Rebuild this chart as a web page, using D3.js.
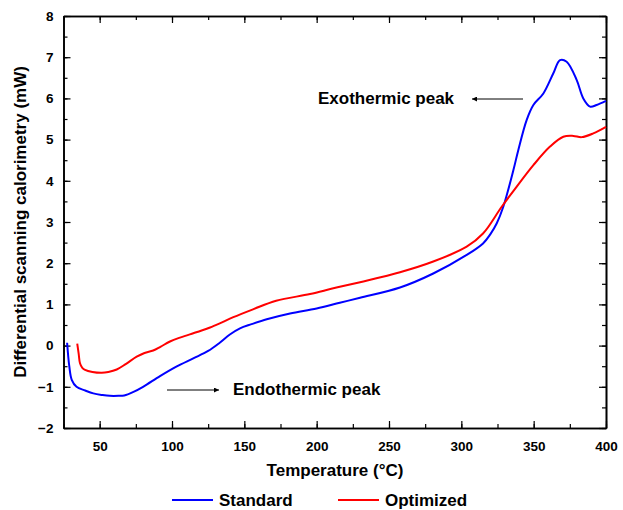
<!DOCTYPE html>
<html><head><meta charset="utf-8">
<script src="https://cdn.jsdelivr.net/npm/d3@7"></script>
<style>
body{margin:0;background:#fff;}
text{font-family:"Liberation Sans",Arial,sans-serif;font-weight:bold;fill:#000;}
</style></head>
<body><svg id="c" width="623" height="510"></svg>
<script>
const stdT = [27.5, 29, 30.7, 34, 40, 45.6, 52, 57, 63, 67, 73, 80, 91.7, 103, 114.7, 125, 133, 140, 147, 155, 165.5, 181.6, 200, 216, 230, 257.6, 280.6, 303.7, 315, 320, 324.5, 329, 336, 339.4, 345.2, 349.8, 356.7, 363.6, 368.2, 372.8, 379.7, 384.3, 389, 393.5, 400];
const stdV = [0.07, -0.5, -0.83, -1.0, -1.09, -1.16, -1.2, -1.22, -1.22, -1.21, -1.13, -1.0, -0.74, -0.51, -0.31, -0.13, 0.07, 0.27, 0.42, 0.52, 0.64, 0.78, 0.9, 1.04, 1.16, 1.41, 1.75, 2.2, 2.48, 2.7, 2.97, 3.37, 4.26, 4.75, 5.48, 5.84, 6.12, 6.61, 6.93, 6.89, 6.45, 6.0, 5.8, 5.84, 5.94];
const optT = [34.5, 35.5, 36.4, 38, 39.9, 45, 51.4, 56, 61.8, 68, 75.6, 81, 87, 92, 98.6, 106, 114.7, 120, 126.3, 133, 142.4, 156, 172, 195.4, 211.5, 230, 257.6, 280.6, 303.7, 315, 327.9, 338.3, 349.8, 361.3, 370.5, 377.4, 383.2, 391.2, 400];
const optV = [0.05, -0.2, -0.43, -0.54, -0.59, -0.64, -0.66, -0.64, -0.58, -0.45, -0.27, -0.18, -0.12, -0.03, 0.1, 0.2, 0.3, 0.36, 0.44, 0.54, 0.69, 0.88, 1.09, 1.25, 1.39, 1.54, 1.78, 2.04, 2.4, 2.72, 3.37, 3.86, 4.38, 4.83, 5.07, 5.09, 5.06, 5.15, 5.31];
const seriesNames = ["Standard", "Optimized"];
const seriesColors = ["#0000ff", "#ff0000"];
const xTicks = [50, 100, 150, 200, 250, 300, 350, 400];
const yTicks = [-2, -1, 0, 1, 2, 3, 4, 5, 6, 7, 8];
const xLabel = "Temperature (°C)";
const yLabel = "Differential scanning calorimetry (mW)";
const annotations = [
  {text: "Exothermic peak", tx: 318, ty: 104, x1: 523, x2: 472, ay: 99},
  {text: "Endothermic peak", tx: 233, ty: 395, x1: 167, x2: 219, ay: 390}
];

const svg = d3.select("#c");
const L = 63.5, R = 606, T = 16, B = 428;
const x = d3.scaleLinear().domain([25, 400]).range([L, R]);
const y = d3.scaleLinear().domain([-2, 8]).range([B, T]);

svg.append("defs").append("marker").attr("id","ah").attr("viewBox","0 0 10 10")
  .attr("refX",10).attr("refY",5).attr("markerWidth",8).attr("markerHeight",5)
  .attr("markerUnits","userSpaceOnUse").attr("orient","auto")
  .append("path").attr("d","M0,0L10,5L0,10Z").attr("fill","#000");

const minorX = d3.range(25, 401, 25);
const minorY = d3.range(-2, 8.01, 0.5);
function styleAxis(g){ g.selectAll("path").attr("stroke","#000").attr("stroke-width",1.6);
  g.selectAll("line").attr("stroke","#000").attr("stroke-width",1.2); }
function styleText(g){ g.selectAll("text").attr("font-size",13.5).attr("font-weight","bold")
  .attr("font-family","Liberation Sans, Arial").attr("fill","#000"); }

const gb = svg.append("g").attr("transform",`translate(0,${B})`)
  .call(d3.axisBottom(x).tickValues(minorX).tickSize(-4).tickSizeOuter(0).tickFormat(""));
styleAxis(gb);
const gb2 = svg.append("g").attr("transform",`translate(0,${B})`)
  .call(d3.axisBottom(x).tickValues(xTicks).tickSize(-7).tickSizeOuter(0).tickPadding(13).tickFormat(d3.format("d")));
styleAxis(gb2); styleText(gb2);
const gt = svg.append("g").attr("transform",`translate(0,${T})`)
  .call(d3.axisTop(x).tickValues(minorX).tickSize(-4).tickSizeOuter(0).tickFormat(""));
styleAxis(gt);
const gt2 = svg.append("g").attr("transform",`translate(0,${T})`)
  .call(d3.axisTop(x).tickValues(xTicks).tickSize(-7).tickSizeOuter(0).tickFormat(""));
styleAxis(gt2);
const gl = svg.append("g").attr("transform",`translate(${L},0)`)
  .call(d3.axisLeft(y).tickValues(minorY).tickSize(-4).tickSizeOuter(0).tickFormat(""));
styleAxis(gl);
const gl2 = svg.append("g").attr("transform",`translate(${L},0)`)
  .call(d3.axisLeft(y).tickValues(yTicks).tickSize(-7).tickSizeOuter(0).tickPadding(10).tickFormat(d3.format("d")));
styleAxis(gl2); styleText(gl2);
const gr = svg.append("g").attr("transform",`translate(${R},0)`)
  .call(d3.axisRight(y).tickValues(minorY).tickSize(-4).tickSizeOuter(0).tickFormat(""));
styleAxis(gr);
const gr2 = svg.append("g").attr("transform",`translate(${R},0)`)
  .call(d3.axisRight(y).tickValues(yTicks).tickSize(-7).tickSizeOuter(0).tickFormat(""));
styleAxis(gr2);

const line = d3.line().x(d=>x(d[0])).y(d=>y(d[1])).curve(d3.curveCatmullRom.alpha(0.5));
const data = [d3.zip(stdT, stdV), d3.zip(optT, optV)];
data.forEach((d,i)=>{
  svg.append("path").datum(d).attr("d",line).attr("fill","none")
    .attr("stroke",seriesColors[i]).attr("stroke-width",2).attr("stroke-linejoin","round");
});

annotations.forEach(a=>{
  svg.append("text").attr("x",a.tx).attr("y",a.ty).attr("font-size",17).text(a.text);
  svg.append("line").attr("x1",a.x1).attr("x2",a.x2).attr("y1",a.ay).attr("y2",a.ay)
    .attr("stroke","#000").attr("stroke-width",1).attr("marker-end","url(#ah)");
});

svg.append("text").attr("x",335).attr("y",476).attr("text-anchor","middle").attr("font-size",17).text(xLabel);
svg.append("text").attr("transform",`translate(26,${(T+B)/2}) rotate(-90)`).attr("text-anchor","middle").attr("font-size",17).text(yLabel);

const legX = [172, 338];
seriesNames.forEach((n,i)=>{
  svg.append("line").attr("x1",legX[i]).attr("x2",legX[i]+41).attr("y1",500).attr("y2",500)
    .attr("stroke",seriesColors[i]).attr("stroke-width",2);
  svg.append("text").attr("x",legX[i]+47).attr("y",506).attr("font-size",17).text(n);
});
</script></body></html>
